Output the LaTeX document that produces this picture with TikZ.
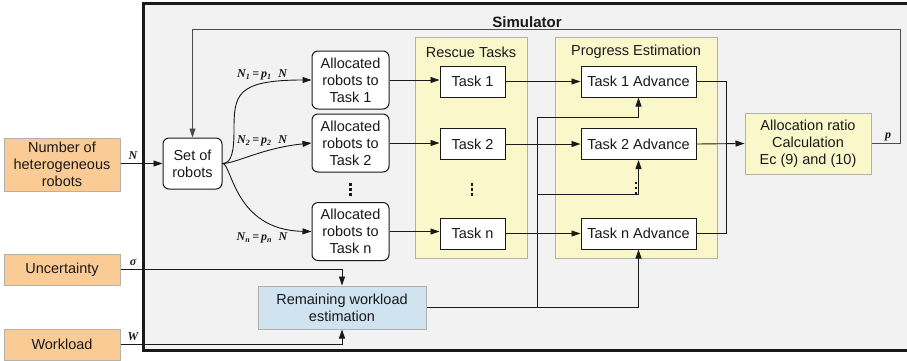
\documentclass[tikz,border=0pt]{standalone}
\usepackage{fontspec}
\setmainfont{Liberation Sans}
\newfontfamily\serifbi{Liberation Serif}
\usetikzlibrary{arrows.meta}
\definecolor{bgc}{RGB}{241,242,241}
\definecolor{orng}{RGB}{251,203,150}
\definecolor{ylw}{RGB}{250,248,202}
\definecolor{blu}{RGB}{207,227,241}
\definecolor{pbrd}{RGB}{178,178,170}
\definecolor{ln}{RGB}{25,25,25}
\begin{document}
\begin{tikzpicture}[x=1pt,y=-1pt,
  txt/.style={font=\fontsize{14.5}{17}\selectfont, text=ln},
  box/.style={txt, draw=ln, line width=1pt, fill=white, align=center, inner sep=0pt},
  rbox/.style={box, rounded corners=6pt},
  obox/.style={txt, draw=pbrd, line width=1pt, fill=orng, align=center, inner sep=0pt, minimum width=116},
  panel/.style={draw=pbrd, line width=1pt, fill=ylw, inner sep=0pt},
  lbl/.style={font=\serifbi\bfseries\itshape\fontsize{12}{14}\selectfont, text=ln, inner sep=0pt},
  conn/.style={draw=ln, line width=0.9pt},
  arr/.style={conn, -{Triangle[length=9pt,width=6pt]}}
]
\useasboundingbox (0,0) rectangle (907,360);
% simulator frame
\draw[line width=3pt, draw=ln, fill=bgc] (143,3) rectangle (915,350);
\node[font=\bfseries\fontsize{15}{17}\selectfont, text=ln] (simt) at (527,22) {Simulator};

% panels
\node[panel, minimum width=112, minimum height=221] (rescue) at (471,147.5) {};
\node[txt] (rescuet) at (471,52) {Rescue Tasks};
\node[panel, minimum width=162, minimum height=221] (prog) at (636,147.5) {};
\node[txt] (progt) at (636,52) {Progress Estimation};

% inputs
\node[obox, minimum height=53] (nr) at (62,164.5) {Number of\\heterogeneous\\robots};
\node[obox, minimum height=31] (unc) at (62,269.5) {Uncertainty};
\node[obox, minimum height=31] (work) at (62,344.5) {Workload};

% set of robots
\node[rbox, minimum width=59, minimum height=51] (set) at (192.5,163.5) {Set of\\robots};

% allocated
\node[rbox, minimum width=77, minimum height=58] (al1) at (350.5,80) {Allocated\\robots to\\Task 1};
\node[rbox, minimum width=77, minimum height=58] (al2) at (350.5,143) {Allocated\\robots to\\Task 2};
\node[rbox, minimum width=77, minimum height=58] (aln) at (350.5,231.5) {Allocated\\robots to\\Task n};

% tasks
\node[box, minimum width=65, minimum height=31] (t1) at (472.5,81.5) {Task 1};
\node[box, minimum width=65, minimum height=31] (t2) at (472.5,144) {Task 2};
\node[box, minimum width=65, minimum height=31] (tn) at (472.5,233.5) {Task n};

% advances
\node[box, minimum width=115, minimum height=31] (a1) at (638.5,81.5) {Task 1 Advance};
\node[box, minimum width=115, minimum height=31] (a2) at (638.5,144) {Task 2 Advance};
\node[box, minimum width=115, minimum height=31] (an) at (638.5,233.5) {Task n Advance};

% allocation ratio
\node[txt, draw=pbrd, line width=1pt, fill=ylw, align=center, inner sep=0pt, minimum width=126, minimum height=61] (ratio) at (808,143.5) {Allocation ratio\\Calculation\\Ec (9) and (10)};

% remaining workload
\node[txt, draw=pbrd, line width=1pt, fill=blu, align=center, inner sep=0pt, minimum width=168, minimum height=43] (rem) at (342,307.5) {Remaining workload\\estimation};

% vertical dots
\coordinate (dA) at (350.5,189.5);
\coordinate (dB) at (472,189.5);
\coordinate (dC) at (636,188);
\foreach \c in {dA,dB,dC}{
  \foreach \dy in {-5,0,5}{
    \fill[ln, shift={(\c)}] (-1.3,\dy-1.3) rectangle ++(2.6,2.6);
  }
}

% input connectors
\draw[arr] (nr.east |- set.west) -- (set.west);
\draw[arr] (unc.east) -| (rem.north);
\draw[arr] (work.east) -| (rem.south);
\node[lbl] (lN) at (133,156) {N};
\node[lbl] (lsig) at (133,262) {σ};
\node[lbl] (lW) at (133,337) {W};

% distribution curves
\draw[arr] (set.east) .. controls (232,163.5) and (234,150) .. (234,130) .. controls (234,95) and (236,80) .. (al1.west);
\draw[arr] (set.east) .. controls (236,163.5) and (262,148) .. (al2.west);
\draw[arr] (set.east) .. controls (232,163.5) and (234,230) .. (aln.west |- 0,231.5);
\node[lbl] (l1) at (262,75) {N\textsubscript{1}\,=\,p\textsubscript{1}\;\;N};
\node[lbl] (l2) at (262,141) {N\textsubscript{2}\,=\,p\textsubscript{2}\;\;N};
\node[lbl] (ln) at (262,238) {N\textsubscript{n}\,=\,p\textsubscript{n}\;\;N};

% allocated -> tasks
\draw[arr] (al1.east) -- (t1.west |- al1.east);
\draw[arr] (al2.east) -- (t2.west |- al2.east);
\draw[arr] (aln.east) -- (tn.west |- aln.east);

% tasks -> advances
\draw[arr] (t1.east) -- (a1.west);
\draw[arr] (t2.east) -- (a2.west);
\draw[arr] (tn.east) -- (an.west);

% remaining workload -> advances
\coordinate (jb) at (537,307.5);
\coordinate (jm) at (537,194);
\coordinate (jt) at (537,117);
\draw[arr] (rem.east) -| (an.south);
\draw[conn] (jb) -- (jt);
\draw[arr] (jt) -| (a1.south);
\draw[arr] (jm) -| (a2.south);

% advances -> ratio
\coordinate (jr) at (726,144);
\draw[conn] (a1.east) -| (jr);
\draw[conn] (an.east) -| (jr);
\draw[arr] (a2.east) -- (ratio.west);

% feedback
\coordinate (fb) at (900,29);
\draw[arr, draw=black!70] (ratio.east) -| (fb) -| (set.north);
\node[lbl] (lp) at (888,137) {p};
\end{tikzpicture}
\end{document}
